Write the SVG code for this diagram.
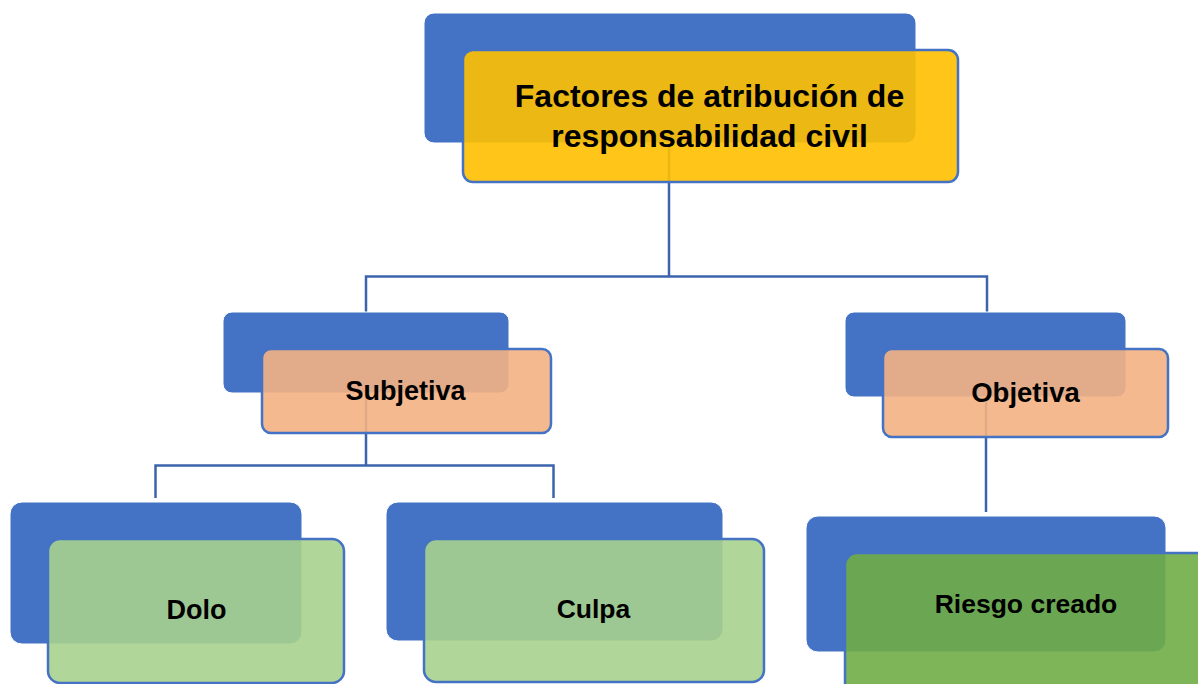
<svg xmlns="http://www.w3.org/2000/svg" width="1198" height="684" viewBox="0 0 1198 684">
  <style>
    .back { fill: #4472C4; stroke: #FFFFFF; stroke-width: 1; }
    .front { stroke: #4472C4; stroke-width: 2.5; fill-opacity: 0.9; }
    .yellow { fill: #FFC000; }
    .orange { fill: #F4B183; }
    .lgreen { fill: #A9D18E; }
    .dgreen { fill: #70AD47; }
    .lbl { font-family: "Liberation Sans", Arial, sans-serif; font-weight: bold; fill: #000000; text-anchor: middle; }
    .conn { fill: none; stroke: #3B64AD; stroke-width: 2.5; }
  </style>
  <rect width="1198" height="684" fill="#FFFFFF"/>
  <g id="connectors">
    <path class="conn" d="M669 120 V276.5 M366 312 V276.5 H987 V312"/>
    <path class="conn" d="M366 380 V465.5 M155.5 498 V465.5 H553.5 V498"/>
    <path class="conn" d="M986 380 V512"/>
  </g>
  <g id="node-root">
    <rect class="back" x="424" y="13" width="492" height="130" rx="10"/>
    <rect class="front yellow" x="463" y="50" width="495" height="132" rx="10"/>
    <text class="lbl" font-size="32" x="709.5" y="107">Factores de atribución de</text>
    <text class="lbl" font-size="32" x="709.5" y="147">responsabilidad civil</text>
  </g>
  <g id="node-subjetiva">
    <rect class="back" x="223" y="312" width="286" height="81" rx="9"/>
    <rect class="front orange" x="262" y="349" width="289" height="84" rx="9"/>
    <text class="lbl" font-size="27" x="405.5" y="400">Subjetiva</text>
  </g>
  <g id="node-objetiva">
    <rect class="back" x="845" y="312" width="281" height="85" rx="9"/>
    <rect class="front orange" x="883" y="349" width="285" height="88" rx="9"/>
    <text class="lbl" font-size="27.5" x="1025.5" y="402">Objetiva</text>
  </g>
  <g id="node-dolo">
    <rect class="back" x="10" y="502" width="292" height="142" rx="12"/>
    <rect class="front lgreen" x="48" y="539" width="296" height="144" rx="12"/>
    <text class="lbl" font-size="27" x="196.5" y="619">Dolo</text>
  </g>
  <g id="node-culpa">
    <rect class="back" x="386" y="502" width="337" height="139" rx="12"/>
    <rect class="front lgreen" x="424" y="539" width="340" height="143" rx="12"/>
    <text class="lbl" font-size="26.5" x="593.5" y="618">Culpa</text>
  </g>
  <g id="node-riesgo">
    <rect class="back" x="806" y="516" width="360" height="136" rx="12"/>
    <rect class="front dgreen" x="845" y="553" width="370" height="150" rx="12"/>
    <text class="lbl" font-size="26.5" x="1026" y="613">Riesgo creado</text>
  </g>
</svg>
